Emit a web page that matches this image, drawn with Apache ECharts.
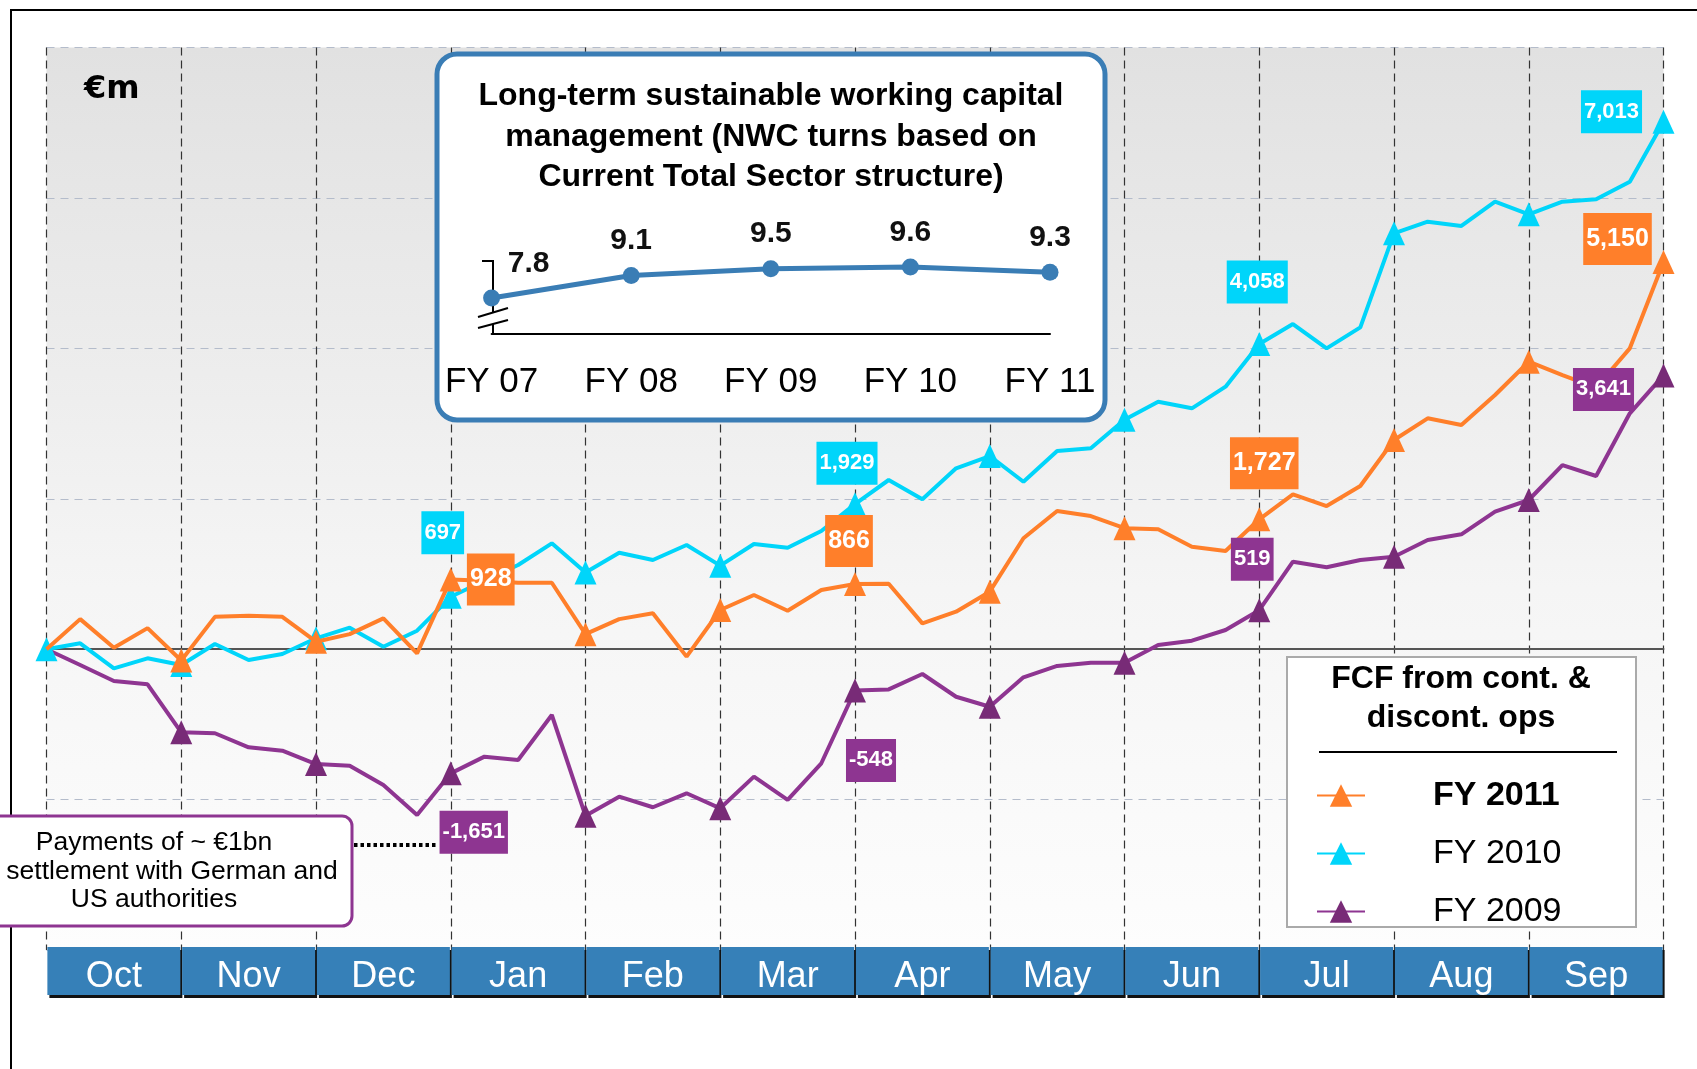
<!DOCTYPE html>
<html>
<head>
<meta charset="utf-8">
<style>
html, body { margin: 0; padding: 0; background: #fff; }
#chart { width: 1697px; height: 1069px; }
</style>
<script src="https://cdn.jsdelivr.net/npm/echarts@6/dist/echarts.min.js"></script>
</head>
<body>
<div id="chart"></div>
<script>
// months of the fiscal year, 4 readings per month -> 49 points
var months = ['Oct', 'Nov', 'Dec', 'Jan', 'Feb', 'Mar', 'Apr', 'May', 'Jun', 'Jul', 'Aug', 'Sep'];
var weeks = [];
for (var w = 0; w < 49; w++) weeks.push(String(w));

var fy2011 = [0, 400, 20, 280, -150, 430, 445, 430, 100, 200, 410, -55,
  928, 910, 884, 884, 200, 400, 477, -99, 521, 721, 512, 787,
  866, 870, 344, 499, 765, 1475, 1838, 1771, 1610, 1594, 1363, 1306,
  1727, 2060, 1904, 2170, 2782, 3070, 2981, 3380, 3823, 3646, 3480, 4001, 5150];
var fy2010 = [0, 78, -254, -121, -210, 69, -144, -64, 145, 286, 33, 246,
  697, 910, 1120, 1408, 1020, 1283, 1186, 1386, 1111, 1399, 1350, 1572,
  1929, 2250, 1993, 2405, 2569, 2227, 2636, 2671, 3050, 3291, 3203, 3491,
  4058, 4324, 4001, 4280, 5530, 5685, 5628, 5951, 5783, 5951, 5982, 6217, 7013];
var fy2009 = [0, -210, -423, -467, -1105, -1118, -1305, -1350, -1527, -1549, -1806, -2205,
  -1651, -1429, -1473, -875, -2215, -1961, -2102, -1916, -2116, -1695, -2005, -1517,
  -548, -535, -330, -632, -765, -374, -223, -180, -180, 56, 113, 255,
  519, 1164, 1089, 1186, 1230, 1452, 1528, 1829, 1984, 2449, 2303, 3137, 3641];
var labelIdx = [12, 24, 36, 48];

// inset: NWC turns
var nwcYears = ['FY 07', 'FY 08', 'FY 09', 'FY 10', 'FY 11'];
var nwcTurns = [7.8, 9.1, 9.5, 9.6, 9.3];

var FONT = '"Liberation Sans", Arial, sans-serif';
var ORANGE = '#ff7f2a', CYAN = '#00d5fa', PURPLE = '#8e3591', BLUE = '#3a7db5';

var chart = echarts.init(document.getElementById('chart'));

// where each value box sits relative to its point
var offsets = {
  'FY 2011': [[40, 0], [-6, -43], [5, -56], [-46, -23]],
  'FY 2010': [[-8, -64], [-8, -41], [-2, -62], [-52, -10]],
  'FY 2009': [[23, 59], [16, 70], [-7, -51], [-60, 14]]
};

function fmt(v) {
  var s = String(Math.abs(v)).replace(/\B(?=(\d{3})+(?!\d))/g, ',');
  return (v < 0 ? '-' : '') + s;
}

function lineSeries(name, values, lineColor, markColor, big, firstMarker, z) {
  var data = values.map(function (v, i) {
    var item = { value: v };
    if (i % 4 !== 0 || (i === 0 && !firstMarker)) item.symbol = 'none';
    return item;
  });
  // value boxes as mark points so they sit above every line
  var marks = labelIdx.map(function (i, k) {
    return {
      coord: [weeks[i], values[i]],
      value: values[i],
      label: { offset: offsets[name][k] }
    };
  });
  return {
    name: name,
    type: 'line',
    xAxisIndex: 0,
    yAxisIndex: 0,
    data: data,
    symbol: 'triangle',
    symbolSize: [22, 24],
    showAllSymbol: true,
    lineStyle: { color: lineColor, width: 4 },
    itemStyle: { color: markColor },
    emphasis: { disabled: true },
    z: z,
    markPoint: {
      symbol: 'circle',
      symbolSize: 1,
      itemStyle: { color: 'rgba(0,0,0,0)' },
      label: {
        show: true,
        position: 'inside',
        formatter: function (p) { return fmt(p.value); },
        backgroundColor: lineColor,
        color: '#fff',
        fontFamily: FONT,
        fontWeight: 'bold',
        fontSize: big ? 25 : 22,
        lineHeight: big ? 26 : 23,
        padding: big ? [13, 3] : [10, 3]
      },
      emphasis: { disabled: true },
      data: marks
    }
  };
}

var insetData = nwcTurns.map(function (v, i) {
  return { value: v, label: { offset: i === 0 ? [37, -6] : [0, -6] } };
});

var option = {
  animation: false,
  grid: [
    {
      left: 46.5, right: 33.5, top: 47.6, bottom: 119,
      show: true, borderWidth: 0,
      backgroundColor: new echarts.graphic.LinearGradient(0, 0, 0, 1, [
        { offset: 0, color: '#e1e1e1' },
        { offset: 0.6, color: '#f5f5f5' },
        { offset: 1, color: '#fdfdfd' }
      ])
    },
    { left: 491.6, right: 647, top: 200, height: 134 }
  ],
  xAxis: [
    {
      type: 'category', gridIndex: 0, data: weeks, boundaryGap: false,
      axisLine: { onZero: true, lineStyle: { color: '#555', width: 2 } },
      axisTick: { show: false },
      axisLabel: { show: false },
      splitLine: {
        show: true,
        interval: function (i) { return i % 4 === 0; },
        lineStyle: { color: '#333', type: [8, 5], width: 1.2 }
      }
    },
    {
      type: 'category', gridIndex: 0, data: months, position: 'bottom', boundaryGap: true,
      axisLine: { show: false, onZero: false },
      axisTick: { show: false },
      splitLine: { show: false },
      axisLabel: {
        interval: 0, margin: -3, color: '#fff', fontSize: 36, fontFamily: FONT,
        backgroundColor: '#3680b8', width: 133, height: 35, lineHeight: 35, padding: [13, 0, 0, 0],
        align: 'center',
        shadowColor: '#111', shadowOffsetY: 3, shadowOffsetX: 2, shadowBlur: 0
      }
    },
    {
      type: 'category', gridIndex: 1, data: nwcYears, boundaryGap: false, z: 6,
      axisLine: { lineStyle: { color: '#000', width: 2 } },
      axisTick: { show: false },
      splitLine: { show: false },
      axisLabel: { interval: 0, color: '#000', fontSize: 35, fontFamily: FONT, margin: 31, lineHeight: 35 }
    }
  ],
  yAxis: [
    {
      type: 'value', gridIndex: 0, min: -4000, max: 8000, interval: 2000,
      axisLine: { show: false }, axisTick: { show: false }, axisLabel: { show: false },
      splitLine: { lineStyle: { color: '#b4bccb', type: [8, 6], width: 1 } }
    },
    { type: 'value', gridIndex: 1, min: 5.7, max: 13.5, show: false }
  ],
  legend: {
    orient: 'vertical', left: 1311, top: 773.5,
    itemWidth: 48, itemHeight: 28, itemGap: 24,
    data: [{ name: 'FY 2011', textStyle: { fontWeight: 'bold' } }, 'FY 2010', 'FY 2009'],
    textStyle: { fontSize: 34, fontFamily: FONT, color: '#000', padding: [0, 0, 0, 63], lineHeight: 34 },
    selectedMode: false,
    z: 6
  },
  series: [
    lineSeries('FY 2009', fy2009, PURPLE, '#782b77', false, false, 2),
    lineSeries('FY 2010', fy2010, CYAN, CYAN, false, true, 3),
    lineSeries('FY 2011', fy2011, ORANGE, ORANGE, true, false, 4),
    {
      type: 'line', xAxisIndex: 2, yAxisIndex: 1, data: insetData,
      symbol: 'circle', symbolSize: 17,
      lineStyle: { color: BLUE, width: 5 },
      itemStyle: { color: BLUE },
      label: {
        show: true, position: 'top', fontSize: 30, fontWeight: 'bold', color: '#111', fontFamily: FONT,
        formatter: function (p) { return p.value.toFixed(1); }
      },
      emphasis: { disabled: true },
      z: 6
    }
  ],
  graphic: [
    // outer frame
    { type: 'polyline', z: 1, shape: { points: [[11, 1069], [11, 10], [1697, 10]] },
      style: { stroke: '#000', lineWidth: 2, fill: null } },
    { type: 'text', z: 5, style: { text: '€m', x: 84, y: 90, fontSize: 32, fontWeight: 'bold',
      fontFamily: '"DejaVu Sans", sans-serif', fill: '#000', verticalAlign: 'middle' } },
    // inset panel
    { type: 'rect', z: 3, shape: { x: 437, y: 54, width: 668, height: 366, r: 20 },
      style: { fill: '#fff', stroke: BLUE, lineWidth: 5 } },
    { type: 'text', z: 5, style: { text: 'Long-term sustainable working capital\nmanagement (NWC turns based on\nCurrent Total Sector structure)',
      x: 771, y: 76, align: 'center', verticalAlign: 'top', fontSize: 32, lineHeight: 40.5, fontWeight: 'bold',
      fontFamily: FONT, fill: '#000' } },
    { type: 'polyline', z: 5, shape: { points: [[482, 261], [493, 261], [493, 312]] },
      style: { stroke: '#000', lineWidth: 2, fill: null } },
    { type: 'line', z: 5, shape: { x1: 493, y1: 324, x2: 493, y2: 334 }, style: { stroke: '#000', lineWidth: 2 } },
    { type: 'line', z: 5, shape: { x1: 478, y1: 317, x2: 508, y2: 308 }, style: { stroke: '#000', lineWidth: 2 } },
    { type: 'line', z: 5, shape: { x1: 478, y1: 328, x2: 508, y2: 320 }, style: { stroke: '#000', lineWidth: 2 } },
    // legend panel
    { type: 'rect', z: 3, shape: { x: 1287, y: 657, width: 349, height: 270 },
      style: { fill: '#fff', stroke: '#aaa', lineWidth: 2 } },
    { type: 'text', z: 5, style: { text: 'FCF from cont. &\ndiscont. ops', x: 1461, y: 660, align: 'center',
      verticalAlign: 'top', fontSize: 32, lineHeight: 39, fontWeight: 'bold', fontFamily: FONT, fill: '#000' } },
    { type: 'line', z: 5, shape: { x1: 1319, y1: 752, x2: 1617, y2: 752 }, style: { stroke: '#000', lineWidth: 2 } },
    // settlement note
    { type: 'rect', z: 3, shape: { x: -10, y: 816, width: 362, height: 110, r: 10 },
      style: { fill: '#fff', stroke: PURPLE, lineWidth: 3 } },
    { type: 'text', z: 5, style: { text: 'Payments of ~ €1bn', x: 154, y: 843, align: 'center', verticalAlign: 'middle',
      fontSize: 26.5, fontFamily: FONT, fill: '#000' } },
    { type: 'text', z: 5, style: { text: 'settlement with German and', x: 172, y: 871.5, align: 'center', verticalAlign: 'middle',
      fontSize: 26.5, fontFamily: FONT, fill: '#000' } },
    { type: 'text', z: 5, style: { text: 'US authorities', x: 154, y: 900, align: 'center', verticalAlign: 'middle',
      fontSize: 26.5, fontFamily: FONT, fill: '#000' } },
    { type: 'line', z: 5, shape: { x1: 354, y1: 845, x2: 438, y2: 845 },
      style: { stroke: '#000', lineWidth: 4, lineDash: [3.5, 3] } }
  ]
};

chart.setOption(option);
window.addEventListener('resize', function () {
  setTimeout(function () {
    chart.resize();
  }, 0);
});
</script>
</body>
</html>
